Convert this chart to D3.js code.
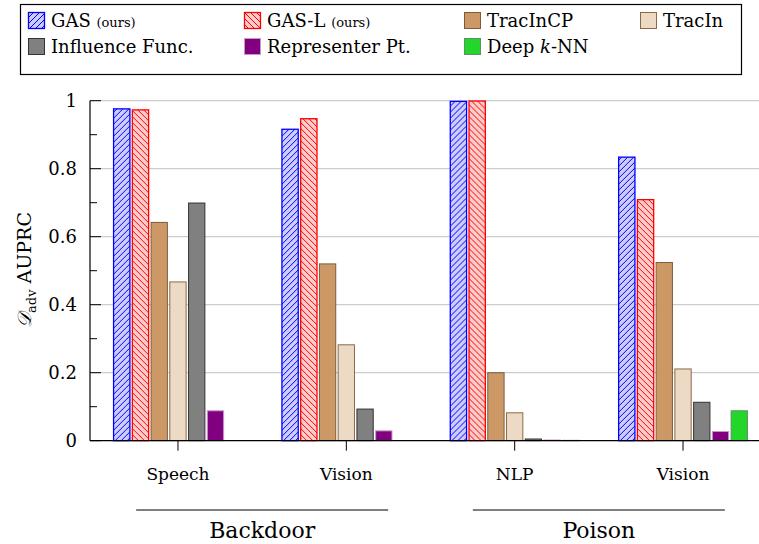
<!DOCTYPE html>
<html>
<head>
<meta charset="utf-8">
<script src="https://cdnjs.cloudflare.com/ajax/libs/d3/7.8.5/d3.min.js"></script>
<style>
  body { margin: 0; background: #fff; }
</style>
</head>
<body>
<svg width="759" height="544"></svg>
<script>
const width = 759;
const height = 544;
const serif = 'DejaVu Serif';

// data
const categories = ['Speech', 'Vision', 'NLP', 'Vision'];
const groups = ['Backdoor', 'Poison'];
const groupOf = [0, 0, 1, 1];
const methods = ['GAS', 'GAS-L', 'TracInCP', 'TracIn', 'Influence Func.', 'Representer Pt.', 'Deep k-NN'];

const gasValues = [0.976, 0.916, 0.998, 0.834];
const gasLValues = [0.973, 0.947, 0.999, 0.709];
const tracInCPValues = [0.642, 0.520, 0.200, 0.524];
const tracInValues = [0.467, 0.282, 0.082, 0.211];
const influenceValues = [0.699, 0.093, 0.005, 0.113];
const representerValues = [0.088, 0.029, 0.002, 0.027];
const deepKnnValues = [0.0, 0.0, 0.001, 0.088];

const yTicks = [0, 0.2, 0.4, 0.6, 0.8, 1];
const yMinorTicks = [0.1, 0.3, 0.5, 0.7, 0.9];

const series = [gasValues, gasLValues, tracInCPValues, tracInValues, influenceValues, representerValues, deepKnnValues];

const styles = [
    { fill: 'url(#hatchBlue)', stroke: '#0000ff', sw: 1.3 },
    { fill: 'url(#hatchRed)', stroke: '#ff0000', sw: 1.3 },
    { fill: '#cc9966', stroke: '#7a5c3c', sw: 1 },
    { fill: '#ecdac5', stroke: '#8c6a44', sw: 1 },
    { fill: '#808080', stroke: '#333333', sw: 1 },
    { fill: '#800080', stroke: '#c49ac4', sw: 1 },
    { fill: '#22d62a', stroke: '#5f8f6a', sw: 1 }
];

const svg = d3.select('svg')
    .style('font-family', serif);
const defs = svg.append('defs');

function hatch(id, bg, color, dir) {
    const p = defs.append('pattern')
        .attr('id', id)
        .attr('patternUnits', 'userSpaceOnUse')
        .attr('width', 6)
        .attr('height', 6);
    p.append('rect').attr('width', 6).attr('height', 6).attr('fill', bg);
    const d = dir > 0
        ? 'M-1,1 l2,-2 M0,6 l6,-6 M5,7 l2,-2'
        : 'M-1,5 l2,2 M0,0 l6,6 M5,-1 l2,2';
    p.append('path').attr('d', d).attr('stroke', color).attr('stroke-width', 1);
}
hatch('hatchBlue', '#ccccff', '#0000ff', 1);
hatch('hatchRed', '#ffcccc', '#ff0000', -1);

const plotLeft = 90;
const x0 = d3.scaleBand()
    .domain(d3.range(categories.length))
    .range([93.8, 767.2]);

const x1 = d3.scaleBand()
    .domain(d3.range(methods.length))
    .range([x0.bandwidth() / 2 - 64.4, x0.bandwidth() / 2 + 64.4])
    .paddingInner(0.13);

const y = d3.scaleLinear()
    .domain([0, 1])
    .range([440.7, 100.7]);

// gridlines
svg.append('g')
    .selectAll('line')
    .data(yTicks.filter(d => d > 0))
    .enter().append('line')
    .attr('x1', plotLeft)
    .attr('x2', width)
    .attr('y1', d => y(d))
    .attr('y2', d => y(d))
    .attr('stroke', '#c0c0c0')
    .attr('stroke-width', 1);

// bars
const groupG = svg.append('g')
    .selectAll('g')
    .data(categories.map((c, i) => i))
    .enter().append('g')
    .attr('transform', i => `translate(${x0(i)},0)`);

groupG.selectAll('rect')
    .data(i => series.map((s, m) => ({ m: m, v: s[i] })))
    .enter().append('rect')
    .attr('x', d => x1(d.m))
    .attr('width', x1.bandwidth())
    .attr('y', d => y(d.v))
    .attr('height', d => y(0) - y(d.v))
    .attr('fill', d => styles[d.m].fill)
    .attr('stroke', d => styles[d.m].stroke)
    .attr('stroke-width', d => styles[d.m].sw);

// y axis
const yAxis = svg.append('g');
yAxis.append('line')
    .attr('x1', plotLeft).attr('x2', plotLeft)
    .attr('y1', y(1)).attr('y2', y(0))
    .attr('stroke', '#000').attr('stroke-width', 1.2);
yAxis.selectAll('.major')
    .data(yTicks)
    .enter().append('line')
    .attr('x1', plotLeft).attr('x2', plotLeft + 11)
    .attr('y1', d => y(d)).attr('y2', d => y(d))
    .attr('stroke', '#000');
yAxis.selectAll('.minor')
    .data(yMinorTicks)
    .enter().append('line')
    .attr('x1', plotLeft).attr('x2', plotLeft + 7)
    .attr('y1', d => y(d)).attr('y2', d => y(d))
    .attr('stroke', '#000');
yAxis.selectAll('text')
    .data(yTicks)
    .enter().append('text')
    .attr('x', 77)
    .attr('y', d => y(d))
    .attr('dy', '0.35em')
    .attr('text-anchor', 'end')
    .style('font-size', '18px')
    .text(d => d3.format('~g')(d));

// x axis
svg.append('line')
    .attr('x1', plotLeft).attr('x2', width)
    .attr('y1', y(0)).attr('y2', y(0))
    .attr('stroke', '#000').attr('stroke-width', 1.2);

svg.append('g')
    .selectAll('line')
    .data(categories.map((c, i) => i))
    .enter().append('line')
    .attr('x1', i => x0(i) + x0.bandwidth() / 2)
    .attr('x2', i => x0(i) + x0.bandwidth() / 2)
    .attr('y1', y(0)).attr('y2', y(0) + 10)
    .attr('stroke', '#000');

svg.append('g')
    .selectAll('text')
    .data(categories)
    .enter().append('text')
    .attr('x', (d, i) => x0(i) + x0.bandwidth() / 2)
    .attr('y', 480)
    .attr('text-anchor', 'middle')
    .style('font-size', '17px')
    .text(d => d);

// group brackets
groups.forEach((g, gi) => {
    const idx = categories.map((c, i) => i).filter(i => groupOf[i] === gi);
    const cx = d3.mean(idx, i => x0(i) + x0.bandwidth() / 2);
    svg.append('line')
        .attr('x1', cx - 126).attr('x2', cx + 126)
        .attr('y1', 510).attr('y2', 510)
        .attr('stroke', '#000').attr('stroke-width', 1.2);
    svg.append('text')
        .attr('x', cx)
        .attr('y', 538)
        .attr('text-anchor', 'middle')
        .style('font-size', '22px')
        .text(g);
});

// y label
const yLabel = svg.append('text')
    .attr('transform', 'translate(31,270) rotate(-90)')
    .attr('text-anchor', 'middle')
    .style('font-size', '19px');
yLabel.append('tspan').style('font-style', 'italic').text('\u{1D49F}');
yLabel.append('tspan').attr('dy', 5).style('font-size', '13px').text('adv');
yLabel.append('tspan').attr('dy', -5).text(' AUPRC');

// legend
const legend = svg.append('g');
legend.append('rect')
    .attr('x', 20.5).attr('y', 4.5)
    .attr('width', 721).attr('height', 70)
    .attr('fill', '#fff')
    .attr('stroke', '#000')
    .attr('stroke-width', 1.2);

const legendX = [28, 244, 464, 640];
const legendItems = legend.selectAll('.legend-item')
    .data(methods.map((m, i) => i))
    .enter().append('g')
    .attr('class', 'legend-item')
    .attr('transform', i => `translate(${legendX[i % 4]},${i < 4 ? 12 : 38})`);

legendItems.append('rect')
    .attr('x', 0.5).attr('y', 0.5)
    .attr('width', 16).attr('height', 16)
    .attr('fill', i => styles[i].fill)
    .attr('stroke', i => styles[i].stroke)
    .attr('stroke-width', i => styles[i].sw);

const legendText = legendItems.append('text')
    .attr('x', 23)
    .attr('y', 15)
    .style('font-size', '18px');

legendText.each(function(i) {
    const t = d3.select(this);
    if (i === 0 || i === 1) {
        t.append('tspan').text(methods[i] + ' ');
        t.append('tspan').style('font-size', '13px').text('(ours)');
    } else if (i === 6) {
        t.append('tspan').text('Deep ');
        t.append('tspan').style('font-style', 'italic').text('k');
        t.append('tspan').text('-NN');
    } else {
        t.text(methods[i]);
    }
});
</script>
</body>
</html>
